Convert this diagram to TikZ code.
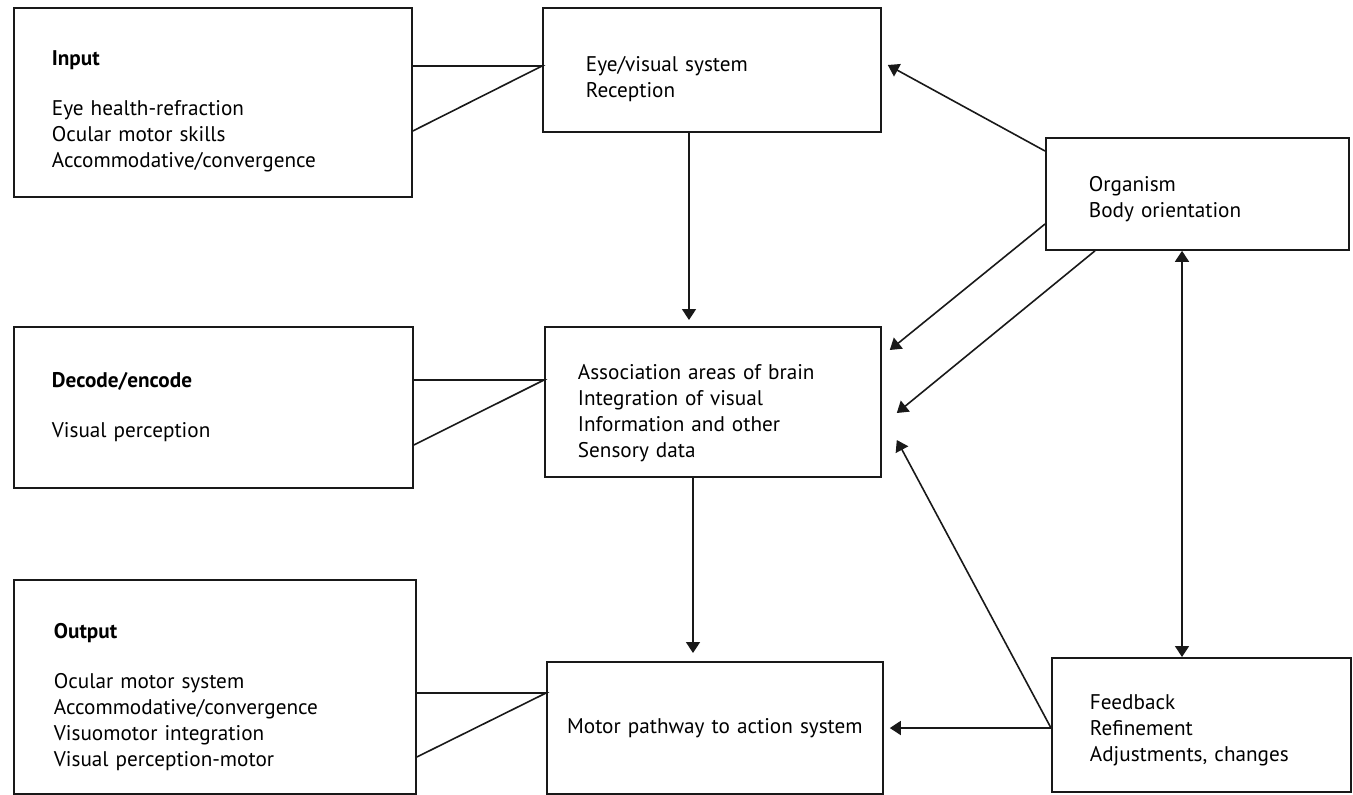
\documentclass[tikz,border=0pt]{standalone}
\usepackage{fontspec}
\setmainfont{PT Sans}
\usetikzlibrary{arrows.meta,positioning,calc}
\newcommand{\toppad}[1]{\rule{0pt}{#1}}
\tikzset{
  basebox/.style={rectangle,draw=black!90,line width=0.9pt,align=left,
    anchor=north west,inner ysep=0pt,font=\fontsize{10.6}{13}\selectfont},
  arrow/.style={-{Triangle[length=5.5pt,width=7pt]},line width=0.8pt,color=black!90},
  dblarrow/.style={{Triangle[length=5.5pt,width=7pt]}-{Triangle[length=5.5pt,width=7pt]},
    line width=0.8pt,color=black!90},
  link/.style={line width=0.8pt,color=black!90}
}

\begin{document}
\begin{tikzpicture}[x=0.5pt,y=-0.5pt]
  \useasboundingbox (0,0) rectangle (1353,794);
  \node[basebox,text width=161pt,inner xsep=19pt,minimum height=94.5pt] (in) at (13,7)
    {\toppad{16.5pt}\textbf{Input}\\[12pt]Eye health-refraction\\Ocular motor skills\\Accommodative/convergence};
  \node[basebox,text width=126pt,inner xsep=21.5pt,minimum height=62pt] (eye) at (542,7)
    {\toppad{16.5pt}Eye/visual system\\Reception};
  \node[basebox,text width=108.5pt,inner xsep=21.5pt,minimum height=56pt] (org) at (1045,137)
    {\toppad{12.5pt}Organism\\Body orientation};
  \node[basebox,text width=161.5pt,inner xsep=19pt,minimum height=80.5pt] (dec) at (13,326)
    {\textbf{Decode/encode}\\[12pt]Visual perception};
  \node[basebox,text width=135pt,inner xsep=16.5pt,minimum height=75pt] (assoc) at (544,326)
    {\toppad{18.5pt}Association areas of brain\\Integration of visual\\Information and other\\Sensory data};
  \node[basebox,text width=161pt,inner xsep=20pt,minimum height=107pt] (out) at (13,579)
    {\toppad{17.5pt}\textbf{Output}\\[12pt]Ocular motor system\\Accommodative/convergence\\Visuomotor integration\\Visual perception-motor};
  \node[basebox,text width=168pt,inner xsep=0pt,minimum height=66pt,align=center] (mot) at (546,661)
    {Motor pathway to action system};
  \node[basebox,text width=111.5pt,inner xsep=19pt,minimum height=67pt] (fb) at (1051,657)
    {\toppad{12.5pt}Feedback\\Refinement\\Adjustments, changes};

  \coordinate (j1) at ($(eye.north west)+(0,59)$);
  \coordinate (j2) at ($(assoc.north west)+(0,54)$);
  \coordinate (j3) at ($(mot.north west)+(0,32)$);
  \draw[link] (in.east |- j1) -- (j1) -- ($(in.north east)+(0,124)$);
  \draw[link] (dec.east |- j2) -- (j2) -- ($(dec.north east)+(0,119)$);
  \draw[link] (out.east |- j3) -- (j3) -- ($(out.north east)+(0,178)$);

  \coordinate (v1) at ($(eye.south west)+(147,0)$);
  \coordinate (v2) at ($(assoc.south west)+(149,0)$);
  \coordinate (v3) at ($(org.south west)+(137,0)$);
  \draw[arrow,shorten >=3pt] (v1) -- (v1 |- assoc.north);
  \draw[arrow,shorten >=4pt] (v2) -- (v2 |- mot.north);
  \draw[dblarrow] (v3) -- (v3 |- fb.north);

  \coordinate (s1) at ($(org.north west)+(0,14)$);
  \coordinate (s2) at ($(org.north west)+(0,87)$);
  \coordinate (s3) at ($(org.south west)+(50,0)$);
  \coordinate (s4) at ($(fb.north west)+(0,71)$);
  \coordinate (t1) at ($(eye.north east)+(6,58)$);
  \coordinate (t2) at ($(assoc.north east)+(8,24)$);
  \coordinate (t3) at ($(assoc.north east)+(15,87)$);
  \coordinate (t4) at ($(assoc.north east)+(15,114)$);
  \coordinate (t5) at ($(mot.north east)+(6,67)$);
  \foreach \a/\b in {s1/t1,s2/t2,s3/t3,s4/t4,s4/t5} \draw[arrow] (\a)--(\b);
\end{tikzpicture}
\end{document}
